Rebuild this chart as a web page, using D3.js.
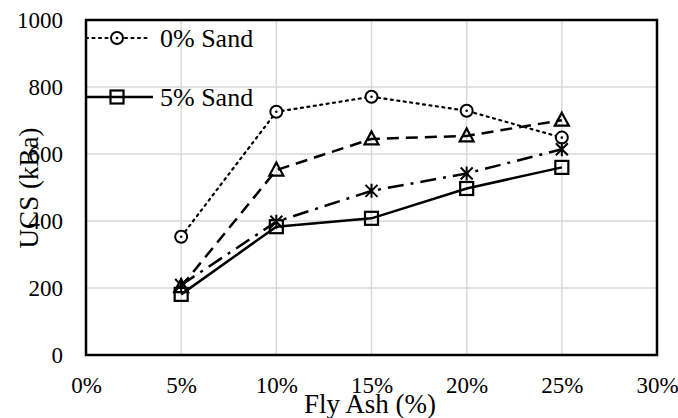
<!DOCTYPE html>
<html><head><meta charset="utf-8">
<script src="https://cdn.jsdelivr.net/npm/d3@7"></script>
<style>body{margin:0;background:#fff}svg{display:block}svg text{font-family:"Liberation Serif","Times New Roman",Tinos,"DejaVu Serif",serif !important;fill:#000}</style>
</head><body><svg id="c" width="678" height="418"></svg>
<script>
const flyAsh = [5, 10, 15, 20, 25];
const sand0 = [353, 726, 771, 729, 649];
const sandTri = [204, 552, 645, 654, 701];
const sandStar = [209, 398, 490, 542, 614];
const sand5 = [181, 383, 408, 497, 560];
const xTicks = [0, 5, 10, 15, 20, 25, 30];
const yTicks = [0, 200, 400, 600, 800, 1000];
const legendLabels = ["0% Sand", "5% Sand"];

const svg = d3.select("#c");
const m = {l: 86, r: 657, t: 20, b: 355};
const x = d3.scaleLinear().domain([0, 30]).range([m.l, m.r]);
const y = d3.scaleLinear().domain([0, 1000]).range([m.b, m.t]);

// grid
svg.append("g").selectAll("line").data(xTicks.slice(1, -1)).join("line")
  .attr("x1", d => x(d)).attr("x2", d => x(d)).attr("y1", m.t).attr("y2", m.b)
  .attr("stroke", "#d9d9d9").attr("stroke-width", 1.5);
svg.append("g").selectAll("line").data(yTicks.slice(1, -1)).join("line")
  .attr("y1", d => y(d)).attr("y2", d => y(d)).attr("x1", m.l).attr("x2", m.r)
  .attr("stroke", "#d9d9d9").attr("stroke-width", 1.5);

// axes
const xa = svg.append("g").attr("transform", `translate(0,${m.b})`)
  .call(d3.axisBottom(x).tickValues(xTicks).tickFormat(d => d + "%").tickSize(0).tickPadding(22));
const ya = svg.append("g").attr("transform", `translate(${m.l},0)`)
  .call(d3.axisLeft(y).tickValues(yTicks).tickFormat(d3.format("d")).tickSize(0).tickPadding(23));
[xa, ya].forEach(a => { a.attr("font-family", null).attr("font-size", null); a.select(".domain").remove(); a.selectAll("text").attr("font-size", 23).attr("fill", "#000"); });

// frame
svg.append("rect").attr("x", m.l).attr("y", m.t).attr("width", m.r - m.l).attr("height", m.b - m.t)
  .attr("fill", "none").attr("stroke", "#000").attr("stroke-width", 2.5);

// titles
svg.append("text").attr("x", 370).attr("y", 413).attr("text-anchor", "middle").attr("font-size", 27).text("Fly Ash (%)");
svg.append("text").attr("transform", "translate(38,188) rotate(-90)").attr("text-anchor", "middle").attr("font-size", 27).text("UCS (kBa)");

const series = [
  {v: sand0, dash: "2,4.5", w: 2.2, cap: "round", mk: "circle"},
  {v: sandTri, dash: "12,7", w: 2.5, cap: "butt", mk: "tri"},
  {v: sandStar, dash: "16,7,3,7", w: 2.5, cap: "butt", mk: "star"},
  {v: sand5, dash: null, w: 2.5, cap: "butt", mk: "square"}
];
const line = d3.line().x((d, i) => x(flyAsh[i])).y(d => y(d));

function marker(g, type, cx, cy) {
  const s = 6.5;
  if (type === "circle") {
    g.append("circle").attr("cx", cx).attr("cy", cy).attr("r", 6).attr("fill", "#fff").attr("stroke", "#000").attr("stroke-width", 2);
    g.append("circle").attr("cx", cx).attr("cy", cy).attr("r", 1.3).attr("fill", "#000");
  } else if (type === "square") {
    g.append("rect").attr("x", cx - s).attr("y", cy - s).attr("width", 2 * s).attr("height", 2 * s).attr("fill", "none").attr("stroke", "#000").attr("stroke-width", 2.2);
  } else if (type === "tri") {
    g.append("path").attr("d", `M${cx},${cy - 7.5}L${cx + 7},${cy + 5.5}L${cx - 7},${cy + 5.5}Z`).attr("fill", "none").attr("stroke", "#000").attr("stroke-width", 2.2);
  } else {
    g.append("path").attr("d", `M${cx - 6},${cy - 6}L${cx + 6},${cy + 6}M${cx - 6},${cy + 6}L${cx + 6},${cy - 6}M${cx},${cy - 7}L${cx},${cy + 7}`).attr("stroke", "#000").attr("stroke-width", 2);
  }
}

series.forEach(s => {
  svg.append("path").datum(s.v).attr("d", line).attr("fill", "none").attr("stroke", "#000")
    .attr("stroke-width", s.w).attr("stroke-dasharray", s.dash).attr("stroke-linecap", s.cap);
});
series.forEach(s => {
  const g = svg.append("g");
  s.v.forEach((d, i) => marker(g, s.mk, x(flyAsh[i]), y(d)));
});

// legend
const leg = [{s: series[0], yy: 38, x2: 148}, {s: series[3], yy: 97, x2: 153}];
leg.forEach((L, i) => {
  svg.append("line").attr("x1", m.l).attr("x2", L.x2).attr("y1", L.yy).attr("y2", L.yy)
    .attr("stroke", "#000").attr("stroke-width", L.s.w).attr("stroke-dasharray", L.s.dash).attr("stroke-linecap", L.s.cap);
  marker(svg.append("g"), L.s.mk, 117, L.yy);
  svg.append("text").attr("x", 160).attr("y", L.yy + 9).attr("font-size", 26).text(legendLabels[i]);
});
</script></body></html>
